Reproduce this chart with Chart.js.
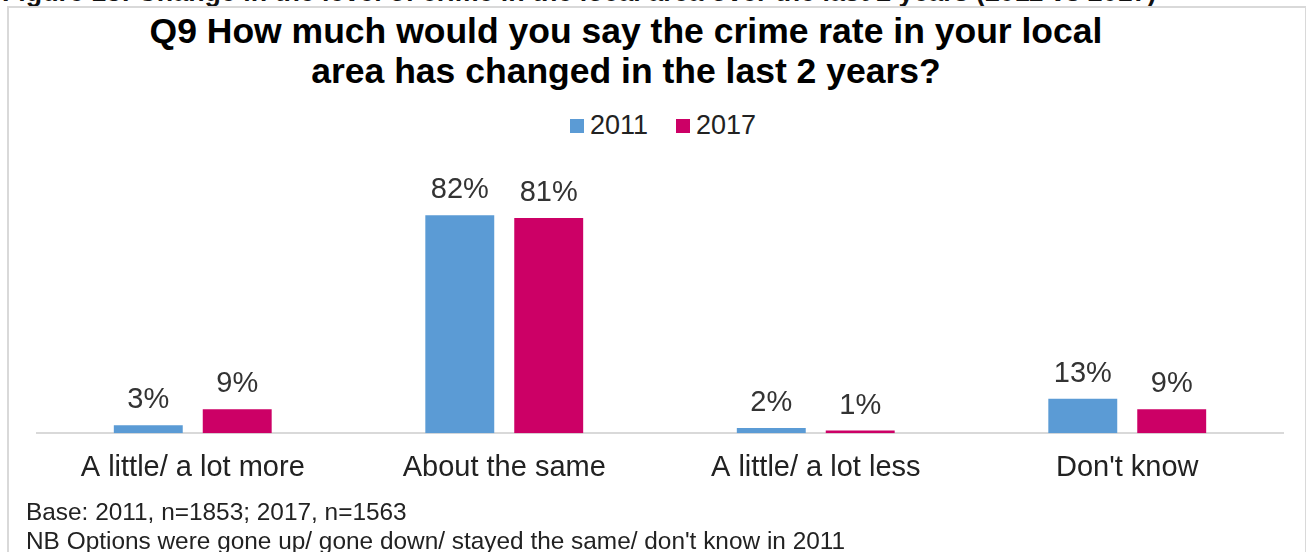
<!DOCTYPE html>
<html>
<head>
<meta charset="utf-8">
<script src="https://cdn.jsdelivr.net/npm/chart.js@4.4.1/dist/chart.umd.min.js"></script>
<style>
  html, body { margin: 0; padding: 0; background: #fff; overflow: hidden; }
  body { width: 1306px; height: 552px; position: relative; font-family: "Liberation Sans", Arial, sans-serif; color: #222; }
  #figcap { position: absolute; left: 2px; top: -23px; font-weight: bold; font-size: 26.8px; white-space: nowrap; color: #111; }
  #frame { position: absolute; left: 7px; top: 6px; width: 1296px; height: 620px; border: 2px solid #d9d9d9; }
  #title { position: absolute; left: 0; top: 11px; width: 1252px; text-align: center; font-weight: bold; font-size: 35.5px; line-height: 40px; color: #000; }
  #legend { position: absolute; top: 110px; left: 570px; font-size: 27px; line-height: 30px; white-space: nowrap; }
  #legend span.box { display: inline-block; width: 14px; height: 14px; margin-right: 6px; vertical-align: 1px; }
  #legend span.item { margin-right: 28px; }
  #note { position: absolute; left: 26px; top: 497px; font-size: 24.4px; line-height: 29px; white-space: nowrap; }
  canvas { position: absolute; left: 0; top: 0; }
</style>
</head>
<body>
<div id="figcap">Figure 13: Change in the level of crime in the local area over the last 2 years (2011 vs 2017)</div>
<div id="frame"></div>
<div id="title">Q9 How much would you say the crime rate in your local<br>area has changed in the last 2 years?</div>
<div id="legend"></div>
<canvas id="chartCanvas" width="1306" height="552"></canvas>
<div id="note">Base: 2011, n=1853; 2017, n=1563<br>NB Options were gone up/ gone down/ stayed the same/ don't know in 2011</div>
<script>
const categories = ["A little/ a lot more", "About the same", "A little/ a lot less", "Don't know"];
const years = ["2011", "2017"];
const values2011 = [3, 82, 2, 13];
const values2017 = [9, 81, 1, 9];
const colors = ["#5b9bd5", "#cc0066"];

// legend above the plot
let legendHtml = "";
years.forEach((y, i) => {
  legendHtml += '<span class="item"><span class="box" style="background:' + colors[i] + '"></span>' + y + '</span>';
});
document.getElementById('legend').innerHTML = legendHtml;

// percentage labels over each bar
const barLabels = {
  id: 'barLabels',
  afterDatasetsDraw(chart) {
    const ctx = chart.ctx;
    ctx.save();
    ctx.font = '29px "Liberation Sans", Arial, sans-serif';
    ctx.fillStyle = '#333';
    ctx.textAlign = 'center';
    ctx.textBaseline = 'alphabetic';
    chart.data.datasets.forEach((ds, i) => {
      chart.getDatasetMeta(i).data.forEach((bar, j) => {
        ctx.fillText(ds.data[j] + '%', bar.x, bar.y - 17);
      });
    });
    ctx.restore();
  }
};

window.chart = new Chart('chartCanvas', {
  type: 'bar',
  data: {
    labels: categories,
    datasets: [
      { label: years[0], data: values2011, backgroundColor: colors[0], categoryPercentage: 0.571, barPercentage: 0.775 },
      { label: years[1], data: values2017, backgroundColor: colors[1], categoryPercentage: 0.571, barPercentage: 0.775 }
    ]
  },
  options: {
    responsive: false,
    animation: false,
    devicePixelRatio: 1,
    layout: { padding: { left: 37, right: 23, top: 194, bottom: 58 } },
    plugins: {
      legend: { display: false },
      title: { display: false },
      tooltip: { enabled: false }
    },
    scales: {
      x: {
        grid: { display: false },
        border: { display: true, color: '#d9d9d9', width: 2 },
        ticks: {
          color: '#222',
          font: { size: 29, family: '"Liberation Sans", Arial, sans-serif' },
          padding: 9,
          maxRotation: 0,
          autoSkip: false
        }
      },
      y: { display: false, min: 0, max: 90 }
    }
  },
  plugins: [barLabels]
});
</script>
</body>
</html>
